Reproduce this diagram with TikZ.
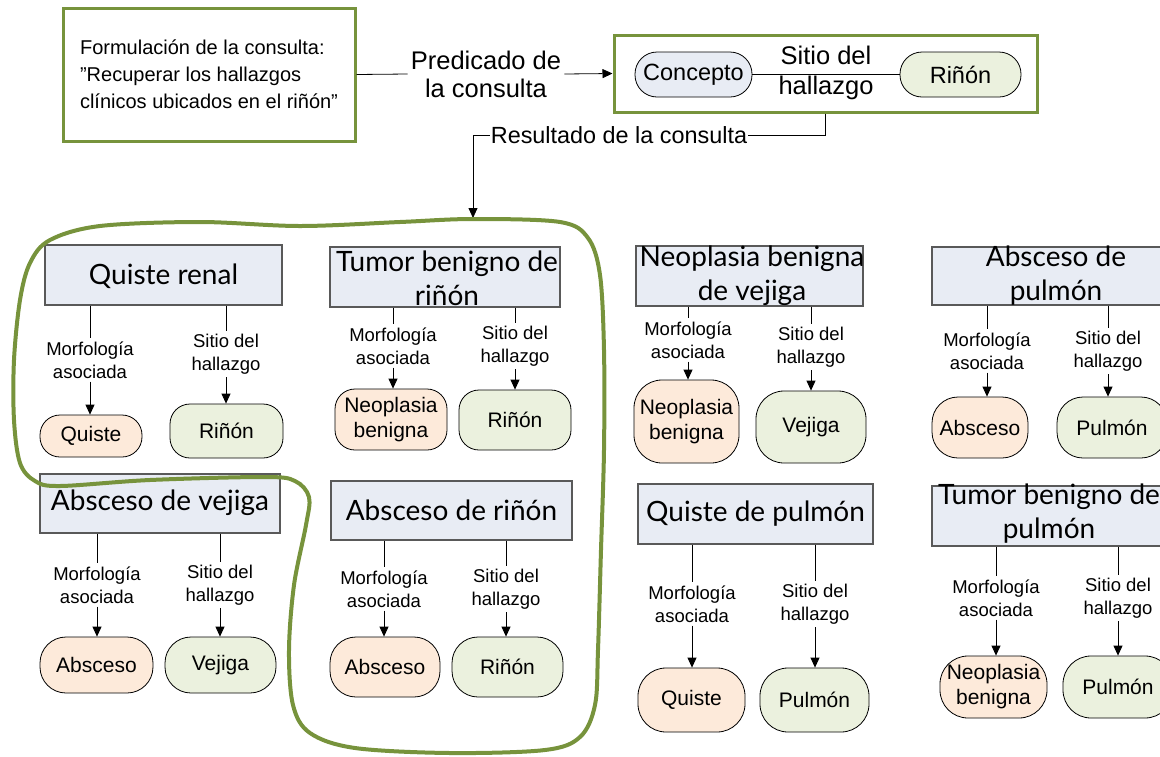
\documentclass[tikz,border=0pt]{standalone}
\usepackage{fontspec}
\setmainfont{Liberation Sans}
\newfontfamily\gillf{Lato}
\usetikzlibrary{arrows.meta}
\definecolor{oliveG}{RGB}{119,147,60}
\definecolor{blueF}{RGB}{232,236,244}
\definecolor{greenF}{RGB}{235,241,222}
\definecolor{peachF}{RGB}{253,234,218}
\newcommand\linkrel[3]{%
  \draw[cn] (#1.south -| #2.north) -- (#2.north);
  \draw[arr] (#2.south) -- (#2.south |- #3.north);}
\begin{document}
\begin{tikzpicture}[x=1pt,y=-1pt,
  tbox/.style={draw=black!65, line width=1.3pt, fill=blueF, inner sep=0pt},
  ttl/.style={font=\gillf\fontsize{28}{34}\selectfont, align=center, inner sep=0pt},
  rel/.style={font=\fontsize{18.5}{23}\selectfont, align=center, inner sep=3pt},
  vbase/.style={draw=black, line width=0.8pt, rounded corners=20pt, font=\fontsize{21}{25}\selectfont, align=center, inner sep=2pt},
  mval/.style={vbase, fill=peachF},
  sval/.style={vbase, fill=greenF},
  arr/.style={-{Triangle[length=10pt,width=9pt]}, line width=0.8pt},
  cn/.style={line width=0.8pt},
  gbox/.style={draw=oliveG, line width=3pt}]
\useasboundingbox (0,0) rectangle (1160,756);
\clip (0,0) rectangle (1160,756);

% ---------- top: query ----------
\node[gbox, minimum width=292pt, minimum height=133pt, align=left, inner xsep=4pt, font=\fontsize{20}{27}\selectfont] (q) at (209,74.5)
  {Formulación de la consulta:\\”Recuperar los hallazgos\\clínicos ubicados en el riñón”};
\node[fill=white, font=\fontsize{25.5}{28}\selectfont, align=center, inner sep=3pt] (pred) at (486,74) {Predicado de\\la consulta};
\node[gbox, minimum width=423pt, minimum height=77pt] (cb) at (825.5,73.5) {};
\node[draw, line width=0.8pt, fill=blueF, rounded corners=22pt, minimum width=117pt, minimum height=45pt, font=\fontsize{23.5}{26}\selectfont] (conc) at (693.5,74.5) {Concepto};
\node[draw, line width=0.8pt, fill=greenF, rounded corners=22pt, minimum width=121pt, minimum height=45pt, font=\fontsize{23.5}{26}\selectfont] (rin0) at (960.5,74.5) {Riñón};
\draw[cn] (conc.east) -- (rin0.west);
\node[font=\fontsize{25.5}{30}\selectfont, align=center] (sit0) at (826,73) {Sitio del\\hallazgo};
\draw[cn] (q.east) -- (pred.west);
\draw[arr] (pred.east) -- (cb.west);
\node[font=\fontsize{23.4}{26}\selectfont, inner sep=1pt] (res) at (619,135) {Resultado de la consulta};
\coordinate (btop) at (473,218);
\draw[cn] (cb.south) |- (res.east);
\draw[arr] (res.west) -| (btop);

% ---------- card 1 ----------
\node[tbox, minimum width=237pt, minimum height=60pt] (T1) at (163.5,275) {};
\node[ttl] (T1t) at (163.5,276) {Quiste renal};
\node[rel] (L1a) at (90,360) {Morfología\\asociada};
\node[rel] (L1b) at (226,354) {Sitio del\\hallazgo};
\node[mval, minimum width=102pt, minimum height=42pt] (V1a) at (91,436) {Quiste};
\node[sval, minimum width=113pt, minimum height=54pt] (V1b) at (226.5,431) {Riñón};
\linkrel{T1}{L1a}{V1a}
\linkrel{T1}{L1b}{V1b}

% ---------- card 2 ----------
\node[tbox, minimum width=230pt, minimum height=60pt] (T2) at (445,277) {};
\node[ttl] (T2t) at (447,278) {Tumor benigno de\\riñón};
\node[rel] (L2a) at (393,346) {Morfología\\asociada};
\node[rel] (L2b) at (515,346) {Sitio del\\hallazgo};
\node[mval, minimum width=112pt, minimum height=61pt] (V2a) at (391,419.5) {Neoplasia\\benigna};
\node[sval, minimum width=112pt, minimum height=60pt] (V2b) at (515,420) {Riñón};
\linkrel{T2}{L2a}{V2a}
\linkrel{T2}{L2b}{V2b}

% ---------- card 3 ----------
\node[tbox, minimum width=227pt, minimum height=60pt] (T3) at (749.5,276) {};
\node[ttl] (T3t) at (752,276) {Neoplasia benigna\\de vejiga};
\node[rel] (L3a) at (688,340) {Morfología\\asociada};
\node[rel] (L3b) at (811,347) {Sitio del\\hallazgo};
\node[mval, minimum width=105pt, minimum height=83pt, rounded corners=28pt] (V3a) at (686.5,421.5) {Neoplasia\\benigna};
\node[sval, minimum width=110pt, minimum height=72pt, rounded corners=28pt] (V3b) at (811,427) {Vejiga};
\linkrel{T3}{L3a}{V3a}
\linkrel{T3}{L3b}{V3b}

% ---------- card 4 ----------
\node[tbox, minimum width=248pt, minimum height=58pt] (T4) at (1056,276) {};
\node[ttl] (T4t) at (1056,276) {Absceso de\\pulmón};
\node[rel] (L4a) at (987,351) {Morfología\\asociada};
\node[rel] (L4b) at (1108,351) {Sitio del\\hallazgo};
\node[mval, minimum width=96pt, minimum height=61pt, rounded corners=26pt] (V4a) at (980,427.5) {Absceso};
\node[sval, minimum width=110pt, minimum height=61pt, rounded corners=26pt] (V4b) at (1112,427.5) {Pulmón};
\linkrel{T4}{L4a}{V4a}
\linkrel{T4}{L4b}{V4b}

% ---------- card 5 ----------
\node[tbox, minimum width=240pt, minimum height=59pt] (T5) at (160,503.5) {};
\node[ttl] (T5t) at (160,503) {Absceso de vejiga};
\node[rel] (L5a) at (97,585) {Morfología\\asociada};
\node[rel] (L5b) at (220,585) {Sitio del\\hallazgo};
\node[mval, minimum width=113pt, minimum height=56pt, rounded corners=26pt] (V5a) at (96.5,665) {Absceso};
\node[sval, minimum width=111pt, minimum height=56pt, rounded corners=26pt] (V5b) at (220.5,665) {Vejiga};
\linkrel{T5}{L5a}{V5a}
\linkrel{T5}{L5b}{V5b}

% ---------- card 6 ----------
\node[tbox, minimum width=241pt, minimum height=59pt] (T6) at (451.5,510.5) {};
\node[ttl] (T6t) at (451.5,510) {Absceso de riñón};
\node[rel] (L6a) at (384,589) {Morfología\\asociada};
\node[rel] (L6b) at (506,589) {Sitio del\\hallazgo};
\node[mval, minimum width=110pt, minimum height=60pt, rounded corners=26pt] (V6a) at (385,667) {Absceso};
\node[sval, minimum width=111pt, minimum height=60pt, rounded corners=26pt] (V6b) at (507.5,667) {Riñón};
\linkrel{T6}{L6a}{V6a}
\linkrel{T6}{L6b}{V6b}

% ---------- card 7 ----------
\node[tbox, minimum width=235pt, minimum height=60pt] (T7) at (755.5,514) {};
\node[ttl] (T7t) at (755.5,514) {Quiste de pulmón};
\node[rel] (L7a) at (692,604) {Morfología\\asociada};
\node[rel] (L7b) at (815,604) {Sitio del\\hallazgo};
\node[mval, minimum width=107pt, minimum height=64pt, rounded corners=28pt] (V7a) at (691.5,700) {Quiste};
\node[sval, minimum width=109pt, minimum height=64pt, rounded corners=28pt] (V7b) at (814.5,700) {Pulmón};
\linkrel{T7}{L7a}{V7a}
\linkrel{T7}{L7b}{V7b}

% ---------- card 8 ----------
\node[tbox, minimum width=248pt, minimum height=60pt] (T8) at (1056,516) {};
\node[ttl] (T8t) at (1049,514) {Tumor benigno de\\pulmón};
\node[rel] (L8a) at (996,598) {Morfología\\asociada};
\node[rel] (L8b) at (1118,598) {Sitio del\\hallazgo};
\node[mval, minimum width=107pt, minimum height=62pt, rounded corners=28pt] (V8a) at (993.5,687) {Neoplasia\\benigna};
\node[sval, minimum width=110pt, minimum height=62pt, rounded corners=28pt] (V8b) at (1118,687) {Pulmón};
\linkrel{T8}{L8a}{V8a}
\linkrel{T8}{L8b}{V8b}

% ---------- result blob ----------
\draw[oliveG, line width=4pt] plot[smooth cycle, tension=0.55] coordinates {
  (50,240) (100,226) (200,222) (300,226) (400,222) (473,219) (560,222)
  (588,238) (600,275) (604,350) (604,450) (601,550) (598,650) (595,705)
  (580,737) (545,750) (450,753) (355,748) (310,733) (293,705) (289,650)
  (294,585) (306,525) (309,497) (295,481) (265,477) (150,480) (60,486)
  (35,481) (20,463) (14,420) (14,360) (20,300) (30,263)};
\end{tikzpicture}
\end{document}
